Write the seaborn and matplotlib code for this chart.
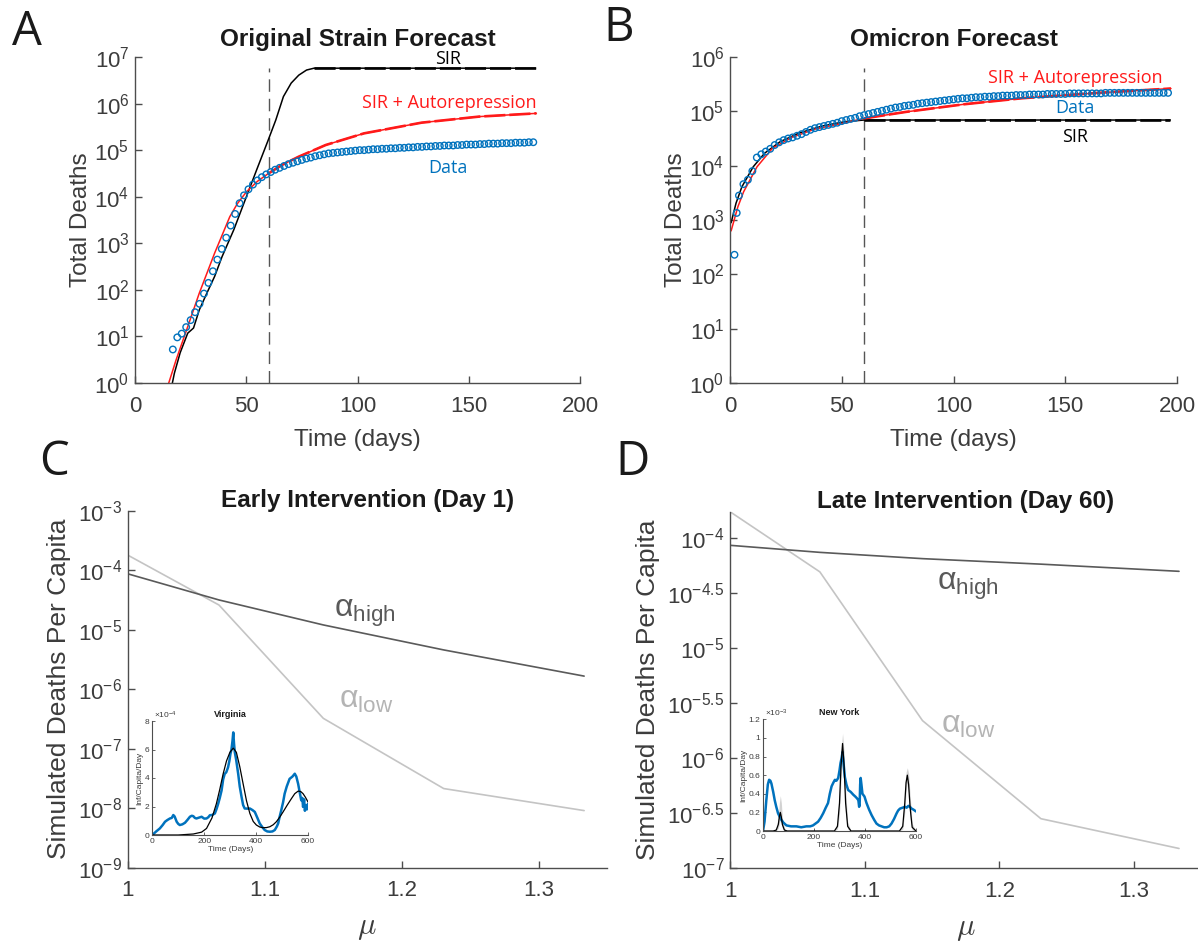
import numpy as np
import matplotlib
matplotlib.use('Agg')
import matplotlib.pyplot as plt
import matplotlib.ticker as mticker
import seaborn as sns

# ---------------------------------------------------------------
# Data (log10 of total deaths for panels A/B)
# ---------------------------------------------------------------
# A - original strain
orig_days = list(range(17, 180, 2))
orig_data_log = [0.72, 0.98, 1.06, 1.20, 1.35, 1.52, 1.70, 1.92, 2.15, 2.40,
                 2.65, 2.88, 3.12, 3.38, 3.63, 3.86, 4.03, 4.16, 4.26, 4.35,
                 4.42, 4.48, 4.53, 4.58, 4.62, 4.66, 4.70, 4.73, 4.76, 4.79,
                 4.82, 4.84, 4.87, 4.89, 4.91, 4.93, 4.94, 4.95, 4.96, 4.97,
                 4.98, 4.99, 5.00, 5.00, 5.01, 5.02, 5.02, 5.03, 5.03, 5.04,
                 5.04, 5.05, 5.05, 5.06, 5.06, 5.07, 5.07, 5.08, 5.08, 5.09,
                 5.09, 5.10, 5.10, 5.10, 5.11, 5.11, 5.12, 5.12, 5.12, 5.13,
                 5.13, 5.14, 5.14, 5.14, 5.15, 5.15, 5.15, 5.16, 5.16, 5.16,
                 5.17, 5.17]
orig_sir_days = [15.5, 17.7, 20.3, 23.7, 26.3, 28.9, 32.3, 35.8, 39.1, 44.4, 49.5,
                 54.7, 59.9, 63.3, 66.7, 70.2, 73.6, 77.1, 80.5, 100, 130, 160, 180]
orig_sir_log = [-0.3, 0.21, 0.65, 1.07, 1.18, 1.57, 1.93, 2.29, 2.71, 3.29, 3.93,
                4.58, 5.22, 5.65, 6.15, 6.44, 6.61, 6.72, 6.76, 6.76, 6.76, 6.76, 6.76]
orig_auto_days = [14.5, 18.5, 23.7, 28.9, 35.8, 42.6, 46, 50, 55, 60, 66, 73.6,
                  85.7, 102.9, 128.8, 154.6, 180.4]
orig_auto_log = [-0.1, 0.5, 1.21, 1.93, 2.79, 3.57, 3.85, 4.10, 4.33, 4.50, 4.68,
                 4.86, 5.11, 5.36, 5.59, 5.72, 5.79]

# B - omicron
omi_days = [2, 3] + list(range(4, 197, 2))
omi_data_log = [2.36, 3.13, 3.45, 3.66, 3.74, 3.90, 4.15, 4.21, 4.26, 4.31,
                4.38, 4.43, 4.47, 4.50, 4.52, 4.55, 4.58, 4.62, 4.66, 4.69,
                4.71, 4.73, 4.75, 4.77, 4.79, 4.82, 4.84, 4.86, 4.88, 4.91,
                4.93, 4.95, 4.97, 4.99, 5.01, 5.03, 5.05, 5.07, 5.08, 5.10,
                5.11, 5.12, 5.14, 5.15, 5.16, 5.17, 5.18, 5.19, 5.20, 5.21,
                5.22, 5.23, 5.24, 5.24, 5.25, 5.26, 5.26, 5.27, 5.27, 5.28,
                5.28, 5.29, 5.29, 5.29, 5.30, 5.30, 5.30, 5.31, 5.31, 5.31,
                5.31, 5.32, 5.32, 5.32, 5.32, 5.32, 5.33, 5.33, 5.33, 5.33,
                5.33, 5.33, 5.33, 5.33, 5.34, 5.34, 5.34, 5.34, 5.34, 5.34,
                5.34, 5.34, 5.34, 5.34, 5.34, 5.34, 5.34, 5.34, 5.34]
omi_sir_days = [0.5, 2.7, 5.3, 10.4, 15.5, 22.4, 30.9, 41.3, 51.5, 60, 80, 120, 160, 197]
omi_sir_log = [2.95, 3.31, 3.61, 3.98, 4.23, 4.44, 4.60, 4.73, 4.81, 4.84, 4.84,
               4.84, 4.84, 4.84]
omi_auto_days = [0.5, 3.5, 6.1, 12.1, 19, 27.6, 37.8, 51.5, 60, 78.8, 104.7,
                 130.4, 164.7, 197.3]
omi_auto_log = [2.80, 3.24, 3.52, 3.98, 4.32, 4.52, 4.67, 4.79, 4.87, 4.99, 5.13,
                5.24, 5.34, 5.42]

# C / D - simulated deaths per capita vs mu (log10)
mu = [1.0, 1.0667, 1.1429, 1.2308, 1.3333]
early_high_log = [-4.06, -4.50, -4.92, -5.34, -5.78]
early_low_log = [-3.745, -4.585, -6.49, -7.67, -8.04]
late_high_log = [-4.069, -4.133, -4.19, -4.24, -4.305]
late_low_log = [-3.764, -4.31, -5.66, -6.55, -6.82]
late_ticks = [-7, -6.5, -6, -5.5, -5, -4.5, -4]

# inset: Virginia (x1e-4 inf/capita/day)
va_days = [4, 15, 29, 40, 49, 58, 68, 75, 81, 86, 94, 100, 106, 116, 126, 135, 145,
           152, 158, 164, 170, 180, 190, 200, 209, 216, 222, 230, 241, 248, 254, 260,
           267, 273, 279, 285, 292, 297, 301, 305, 309, 312, 315, 318, 323, 331, 337,
           344, 350, 356, 366, 376, 386, 395, 405, 414, 424, 433, 443, 453, 463, 472,
           480, 485, 491, 497, 504, 510, 518, 529, 540, 549, 555, 562, 568, 574, 578,
           581, 585, 588, 592, 596, 600]
va_data = [0.07, 0.25, 0.46, 0.7, 0.93, 1.05, 1.16, 1.2, 1.40, 1.30, 0.93, 0.78, 0.70,
           0.75, 0.86, 1.05, 1.28, 1.35, 1.32, 1.20, 1.16, 1.22, 1.28, 1.15, 1.16, 1.25,
           1.39, 1.40, 1.51, 1.85, 2.2, 2.6, 3.13, 3.9, 4.29, 4.4, 4.75, 5.2, 5.68, 6.0,
           6.6, 7.2, 6.4, 5.8, 5.3, 4.29, 3.4, 2.67, 2.1, 1.86, 1.85, 1.86, 1.75, 1.62,
           1.2, 0.81, 0.55, 0.35, 0.25, 0.23, 0.25, 0.35, 0.6, 0.81, 1.3, 1.74, 2.3, 2.90,
           3.4, 3.94, 4.1, 4.3, 4.1, 3.59, 3.0, 2.43, 2.6, 1.97, 2.5, 1.7, 2.1, 1.8, 2.2]
va_model_days = [0, 100, 158, 190, 209, 230, 247, 260, 273, 286, 299, 312, 324, 337,
                 350, 363, 376, 389, 401, 414, 427, 440, 453, 466, 478, 491, 504, 520,
                 536, 549, 562, 572, 581, 590, 600]
va_model = [0, 0.0, 0.07, 0.2, 0.46, 1.2, 2.2, 3.2, 4.29, 5.2, 5.80, 6.10, 5.80, 4.8,
            3.59, 2.4, 1.51, 0.95, 0.70, 0.56, 0.51, 0.52, 0.58, 0.72, 0.93, 1.25, 1.62,
            2.1, 2.55, 2.9, 3.08, 3.05, 2.90, 2.65, 2.32]

# inset: New York (x1e-3 inf/capita/day)
ny_days = [0, 6, 13, 19, 24, 29, 33, 40, 46, 52, 59, 66, 72, 80, 92, 110, 131, 150,
           170, 185, 196, 206, 216, 226, 236, 246, 255, 262, 269, 276, 282, 288, 295,
           300, 304, 308, 312, 316, 321, 327, 334, 344, 354, 362, 369, 374, 377, 379,
           381, 383, 386, 390, 398, 406, 416, 426, 436, 445, 455, 465, 475, 485, 495,
           504, 514, 524, 530, 537, 547, 557, 563, 570, 576, 583, 590, 600]
ny_data = [0.0, 0.1, 0.33, 0.5, 0.55, 0.54, 0.51, 0.42, 0.33, 0.26, 0.19, 0.15, 0.12,
           0.09, 0.06, 0.05, 0.05, 0.04, 0.05, 0.05, 0.06, 0.08, 0.10, 0.14, 0.19, 0.25,
           0.30, 0.40, 0.48, 0.52, 0.55, 0.54, 0.57, 0.65, 0.73, 0.78, 0.85, 0.72, 0.58,
           0.50, 0.44, 0.42, 0.39, 0.37, 0.35, 0.33, 0.26, 0.28, 0.50, 0.57, 0.50, 0.40,
           0.37, 0.30, 0.23, 0.17, 0.12, 0.08, 0.06, 0.05, 0.04, 0.04, 0.05, 0.08, 0.13,
           0.19, 0.22, 0.24, 0.25, 0.26, 0.25, 0.27, 0.26, 0.24, 0.23, 0.21]
ny_model_days = [0, 40, 52, 60, 64, 68, 72, 76, 84, 95, 280, 292, 300, 306, 312, 318,
                 324, 332, 345, 535, 548, 556, 561, 566, 571, 577, 585, 600]
ny_model = [0, 0, 0.01, 0.07, 0.15, 0.20, 0.15, 0.07, 0.01, 0, 0, 0.05, 0.3, 0.7, 0.94,
            0.7, 0.3, 0.05, 0, 0, 0.05, 0.3, 0.52, 0.6, 0.5, 0.25, 0.04, 0]
ny_model_hi = [0, 0, 0.03, 0.14, 0.30, 0.38, 0.30, 0.14, 0.03, 0, 0, 0.10, 0.45, 0.85,
               1.05, 0.85, 0.45, 0.10, 0, 0, 0.10, 0.42, 0.63, 0.68, 0.62, 0.38, 0.08, 0]
ny_model_lo = [0, 0, 0, 0.03, 0.08, 0.12, 0.08, 0.03, 0, 0, 0, 0.02, 0.18, 0.55, 0.82,
               0.55, 0.18, 0.02, 0, 0, 0.02, 0.2, 0.42, 0.52, 0.40, 0.15, 0.01, 0]

# ---------------------------------------------------------------
# Style
# ---------------------------------------------------------------
sns.set_theme(style='white')
plt.rcParams['font.family'] = ['Liberation Sans', 'DejaVu Sans']
plt.rcParams['mathtext.default'] = 'regular'

BLUE = '#0072BD'
RED = '#ff1a1a'
AXC = '#4d4d4d'
TXT = '#3c3c3c'
DARK = '#5a5a5a'
LIGHT = '#c4c4c4'
ANN = 'Open Sans'

W, H = 1198, 941
fig = plt.figure(figsize=(W / 100, H / 100), dpi=100)


def box(l, r, t, b):
    return [l / W, 1 - b / H, (r - l) / W, (b - t) / H]


def style(ax, size=16):
    sns.despine(ax=ax)
    for s in ['left', 'bottom']:
        ax.spines[s].set_color(AXC)
        ax.spines[s].set_linewidth(1)
    ax.tick_params(direction='in', length=5, width=1, color=AXC, labelcolor=TXT,
                   labelsize=size, left=True, bottom=True)
    ax.tick_params(axis='x', pad=9)
    ax.tick_params(axis='y', pad=4)
    ax.yaxis.set_minor_locator(mticker.NullLocator())


def lp(x, ylog):
    return np.asarray(x), 10.0 ** np.asarray(ylog)


def forecast(ax, days, ylog, color, start=60):
    # thin solid fit, plus a dashed overlay on the forecast part
    x, y = lp(days, ylog)
    sns.lineplot(x=x, y=y, ax=ax, color=color, lw=1.1, estimator=None, sort=False)
    m = x >= start
    sns.lineplot(x=x[m], y=y[m], ax=ax, color=color, lw=1.9, estimator=None,
                 sort=False, linestyle=(0, (8, 1.5)))


# ---------------- A ----------------
axA = fig.add_axes(box(135, 580, 57, 383))
axA.set_yscale('log')
sns.lineplot(x=[60, 60], y=[1, 10 ** 6.76], ax=axA, color='#555555', lw=1,
             linestyle=(0, (9, 5)), estimator=None, sort=False)
x, y = lp(orig_days, orig_data_log)
sns.scatterplot(x=x, y=y, ax=axA, marker='o', s=22, facecolor='none',
                edgecolor=BLUE, linewidth=1, zorder=3)
forecast(axA, orig_sir_days, orig_sir_log, 'black', start=78)
forecast(axA, orig_auto_days, orig_auto_log, RED)
axA.set(xlim=(0, 200), ylim=(1, 1e7))
axA.set_xticks([0, 50, 100, 150, 200])
axA.set_yticks([10.0 ** k for k in range(0, 8)])
style(axA)
axA.set_title('Original Strain Forecast', fontsize=17.5, fontweight='bold',
              color='#1a1a1a', pad=8)
axA.set_xlabel('Time (days)', fontsize=17.5, color=TXT, labelpad=9)
axA.set_ylabel('Total Deaths', fontsize=17.5, color=TXT, labelpad=2)
axA.text(140.7, 10 ** 6.96, 'SIR', family=ANN, fontsize=13, color='black',
         ha='center', va='center')
axA.text(180.4, 10 ** 6.01, 'SIR + Autorepression', family=ANN, fontsize=13,
         color=RED, ha='right', va='center')
axA.text(140.7, 10 ** 4.62, 'Data', family=ANN, fontsize=13, color=BLUE,
         ha='center', va='center')

# ---------------- B ----------------
axB = fig.add_axes(box(730, 1177, 57, 383))
axB.set_yscale('log')
sns.lineplot(x=[60, 60], y=[1, 10 ** 5.8], ax=axB, color='#555555', lw=1,
             linestyle=(0, (9, 5)), estimator=None, sort=False)
x, y = lp(omi_days, omi_data_log)
sns.scatterplot(x=x, y=y, ax=axB, marker='o', s=22, facecolor='none',
                edgecolor=BLUE, linewidth=1, zorder=3)
forecast(axB, omi_sir_days, omi_sir_log, 'black')
forecast(axB, omi_auto_days, omi_auto_log, RED)
axB.set(xlim=(0, 200), ylim=(1, 1e6))
axB.set_xticks([0, 50, 100, 150, 200])
axB.set_yticks([10.0 ** k for k in range(0, 7)])
style(axB)
axB.set_title('Omicron Forecast', fontsize=17.5, fontweight='bold',
              color='#1a1a1a', pad=8)
axB.set_xlabel('Time (days)', fontsize=17.5, color=TXT, labelpad=9)
axB.set_ylabel('Total Deaths', fontsize=17.5, color=TXT, labelpad=2)
axB.text(154.4, 10 ** 5.61, 'SIR + Autorepression', family=ANN, fontsize=13,
         color=RED, ha='center', va='center')
axB.text(154.4, 10 ** 5.06, 'Data', family=ANN, fontsize=13, color=BLUE,
         ha='center', va='center')
axB.text(154.4, 10 ** 4.53, 'SIR', family=ANN, fontsize=13, color='black',
         ha='center', va='center')


# ---------------- C / D ----------------
def mu_panel(ax, high, low, title):
    ax.set_yscale('log')
    sns.lineplot(x=mu, y=10.0 ** np.asarray(low), ax=ax, color=LIGHT, lw=1.2,
                 estimator=None, sort=False)
    sns.lineplot(x=mu, y=10.0 ** np.asarray(high), ax=ax, color=DARK, lw=1.2,
                 estimator=None, sort=False)
    ax.set_xlim(1, 1.35)
    ax.set_xticks([1, 1.1, 1.2, 1.3])
    ax.set_xticklabels(['1', '1.1', '1.2', '1.3'])
    style(ax)
    ax.set_title(title, fontsize=17.5, fontweight='bold', color='#1a1a1a', pad=3)
    ax.set_xlabel(r'$\mathit{\mu}$', fontsize=22, color=TXT, labelpad=8,
                  math_fontfamily='cm')
    ax.set_ylabel('Simulated Deaths Per Capita', fontsize=19, color=TXT, labelpad=5)


axC = fig.add_axes(box(127.6, 607, 510.7, 867.7))
mu_panel(axC, early_high_log, early_low_log, 'Early Intervention (Day 1)')
axC.set_ylim(1e-9, 1e-3)
axC.set_yticks([10.0 ** k for k in range(-9, -2)])
axC.yaxis.set_major_formatter(mticker.FuncFormatter(
    lambda v, p: r'$\mathdefault{10^{%d}}$' % round(np.log10(v))))
axC.text(1.1507, 10 ** -4.78, r'$\alpha_{high}$', fontsize=23, color=DARK,
         math_fontfamily='dejavusans', ha='left', va='baseline')
axC.text(1.1543, 10 ** -6.32, r'$\alpha_{low}$', fontsize=23, color='#b4b4b4',
         math_fontfamily='dejavusans', ha='left', va='baseline')

axD = fig.add_axes(box(730, 1201.5, 511.7, 868.3))
mu_panel(axD, late_high_log, late_low_log, 'Late Intervention (Day 60)')
axD.set_ylim(1e-7, 10 ** -3.764)
axD.set_yticks([10.0 ** k for k in late_ticks])
axD.set_yticklabels([r'$\mathdefault{10^{%g}}$' % k for k in late_ticks])
axD.text(1.1537, 10 ** -4.475, r'$\alpha_{high}$', fontsize=23, color=DARK,
         math_fontfamily='dejavusans', ha='left', va='baseline')
axD.text(1.1567, 10 ** -5.775, r'$\alpha_{low}$', fontsize=23, color='#b4b4b4',
         math_fontfamily='dejavusans', ha='left', va='baseline')


# ---------------- insets ----------------
def inset(rect, title, ymax, yticks, ylabels, expo):
    ax = fig.add_axes(rect)
    ax.set_facecolor('none')
    ax.set(xlim=(0, 600), ylim=(0, ymax))
    ax.set_xticks([0, 200, 400, 600])
    ax.set_yticks(yticks)
    ax.set_yticklabels(ylabels)
    sns.despine(ax=ax)
    for s in ['left', 'bottom']:
        ax.spines[s].set_color(AXC)
        ax.spines[s].set_linewidth(0.8)
    ax.tick_params(direction='in', length=2.5, width=0.6, color=AXC,
                   labelcolor=TXT, labelsize=6, pad=2, left=True, bottom=True)
    ax.set_title(title, fontsize=6.5, fontweight='bold', color='#1a1a1a', pad=3)
    ax.set_xlabel('Time (Days)', fontsize=6, color=TXT, labelpad=1)
    ax.set_ylabel('Inf/Capita/Day', fontsize=6, color=TXT, labelpad=1)
    ax.text(0.01, 1.0, r'$\times10^{%d}$' % expo, transform=ax.transAxes,
            fontsize=6, color=TXT, ha='left', va='bottom')
    return ax


axV = inset(box(152.3, 308, 721, 835), 'Virginia', 8, [0, 2, 4, 6, 8],
            ['0', '2', '4', '6', '8'], -4)
sns.lineplot(x=va_days, y=va_data, ax=axV, color=BLUE, lw=1.8, estimator=None, sort=False)
sns.lineplot(x=va_model_days, y=va_model, ax=axV, color='black', lw=0.9,
             estimator=None, sort=False)

axN = inset(box(763, 916, 719.3, 831), 'New York', 1.2,
            [0, 0.2, 0.4, 0.6, 0.8, 1.0, 1.2],
            ['0', '0.2', '0.4', '0.6', '0.8', '1', '1.2'], -3)
axN.fill_between(ny_model_days, ny_model_lo, ny_model_hi, color='#b5b5b5',
                 alpha=0.6, lw=0)
sns.lineplot(x=ny_days, y=ny_data, ax=axN, color=BLUE, lw=1.8, estimator=None, sort=False)
sns.lineplot(x=ny_model_days, y=ny_model, ax=axN, color='black', lw=0.9,
             estimator=None, sort=False)

# panel letters
for lab, (px, py) in zip('ABCD', [(27, 32), (619, 28), (54, 462), (633, 462)]):
    fig.text(px / W, 1 - py / H, lab, family=ANN, fontsize=34, color='#1a1a1a',
             ha='center', va='center')

fig.savefig('out.png', dpi=100)
